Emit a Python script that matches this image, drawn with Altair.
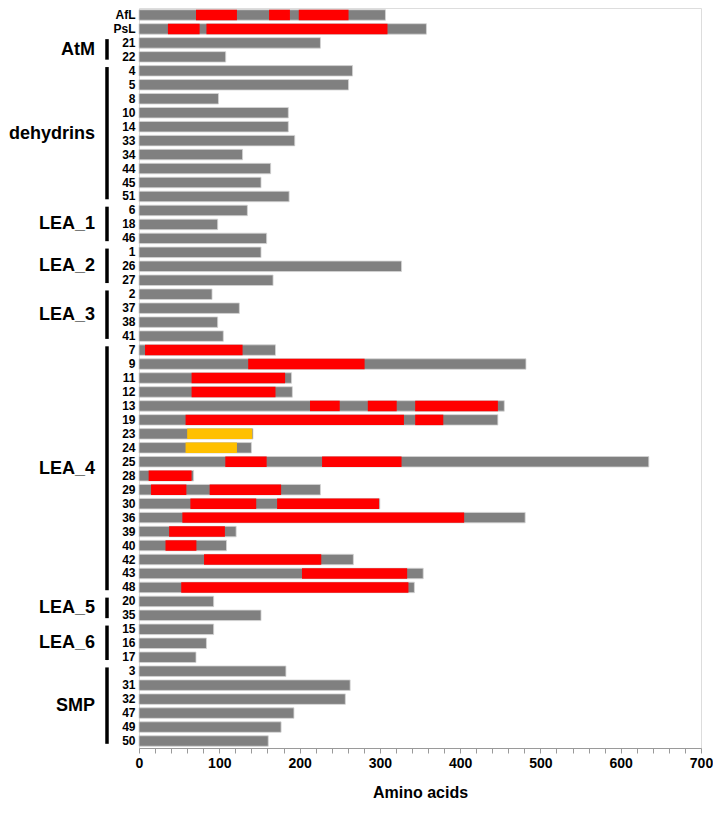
import altair as alt
import pandas as pd

# Row labels (top to bottom) and total protein lengths (amino acids)
rows = ["AfL", "PsL", "21", "22",
        "4", "5", "8", "10", "14", "33", "34", "44", "45", "51",
        "6", "18", "46",
        "1", "26", "27",
        "2", "37", "38", "41",
        "7", "9", "11", "12", "13", "19", "23", "24", "25", "28", "29", "30",
        "36", "39", "40", "42", "43", "48",
        "20", "35",
        "15", "16", "17",
        "3", "31", "32", "47", "49", "50"]
lengths = [307, 358, 226, 108,
           266, 261, 99, 186, 186, 194, 129, 164, 152, 187,
           135, 98, 159,
           152, 327, 167,
           91, 125, 98, 105,
           170, 482, 190, 191, 455, 447, 142, 140, 635, 68, 226, 300,
           481, 121, 109, 267, 354, 343,
           93, 152,
           93, 84, 71,
           183, 263, 257, 193, 177, 161]

# Highlighted segments (red = repeat region, yellow = other motif)
seg_rows = ["AfL", "AfL", "AfL", "PsL", "PsL",
            "7", "9", "11", "12", "13", "13", "13", "19", "19",
            "23", "24", "25", "25", "28", "29", "29", "30", "30",
            "36", "39", "40", "42", "43", "48"]
seg_starts = [71, 162, 199, 36, 84,
              7.5, 136, 65.5, 65.5, 213, 285, 344, 58, 344,
              60, 58, 107.5, 228, 12, 15, 88, 64, 172,
              54, 37.5, 33, 81, 203, 52.6]
seg_ends = [122, 188, 261, 75.5, 309.5,
            129, 281, 182, 170, 250, 321, 447, 330, 379,
            141, 122, 159, 327, 65.5, 59, 177, 146, 299,
            405, 107, 71.5, 227, 334, 335.6]
seg_kinds = ["red", "red", "red", "red", "red",
             "red", "red", "red", "red", "red", "red", "red", "red", "red",
             "yellow", "yellow", "red", "red", "red", "red", "red", "red", "red",
             "red", "red", "red", "red", "red", "red"]

# Groups
groups = ["AtM", "dehydrins", "LEA_1", "LEA_2", "LEA_3", "LEA_4", "LEA_5", "LEA_6", "SMP"]
group_first = ["21", "4", "6", "1", "2", "7", "20", "15", "3"]
group_last = ["22", "51", "46", "27", "41", "48", "35", "17", "50"]

# Axis tick positions
tick_values = list(range(0, 701, 20))

FONT = "Liberation Sans"
N = len(rows)
W = 562
H = 740

bars_df = pd.DataFrame({"label": rows, "length": lengths})
seg_df = pd.DataFrame({"label": seg_rows, "start": seg_starts, "end": seg_ends, "kind": seg_kinds})
gi_first = [rows.index(g) for g in group_first]
gi_last = [rows.index(g) for g in group_last]
grp_df = pd.DataFrame({
    "group": groups,
    "top": [f + 0.23 for f in gi_first],
    "bot": [l + 0.7 for l in gi_last],
    "mid": [(f + l + 1) / 2 for f, l in zip(gi_first, gi_last)],
})

yscale = alt.Scale(domain=rows, paddingInner=0.25, paddingOuter=0.125)
xscale = alt.Scale(domain=[0, 700], nice=False)

xaxis = alt.Axis(
    values=tick_values,
    labelExpr="(round(datum.value) % 100 == 0) ? format(datum.value, 'd') : ''",
    labelOverlap=False, labelFlush=False, labelBound=False,
    tickSize=5, tickColor="#9a9a9a", domainColor="#9a9a9a",
    labelFont=FONT, labelFontSize=14, labelFontWeight="bold", labelColor="black",
    labelPadding=3, grid=False,
    title="Amino acids", titleFont=FONT, titleFontSize=16, titleFontWeight="bold",
    titleColor="black", titlePadding=14,
)
yaxis = alt.Axis(
    title=None, ticks=False, domain=False, labelPadding=4,
    labelFont=FONT, labelFontSize=12, labelFontWeight="bold", labelColor="black",
    labelOverlap=False,
)

base = alt.Chart(bars_df).mark_bar(color="#808080", stroke="#d4d4d4", strokeWidth=0.8).encode(
    x=alt.X("length:Q", scale=xscale, axis=xaxis),
    y=alt.Y("label:N", sort=rows, scale=yscale, axis=yaxis),
)

segs = alt.Chart(seg_df).mark_bar().encode(
    x=alt.X("start:Q", scale=xscale, axis=xaxis),
    x2="end:Q",
    y=alt.Y("label:N", sort=rows, scale=yscale, axis=yaxis),
    color=alt.Color("kind:N", scale=alt.Scale(domain=["red", "yellow"], range=["#FF0000", "#FFC000"]), legend=None),
)

gscale = alt.Scale(domain=[0, N], reverse=True, nice=False, zero=False)
brackets = alt.Chart(grp_df).mark_rule(color="black", strokeWidth=3.5).encode(
    x=alt.value(-32),
    y=alt.Y("top:Q", scale=gscale, axis=None),
    y2="bot:Q",
)
glabels = alt.Chart(grp_df).mark_text(
    align="right", baseline="middle", font=FONT, fontSize=18, fontWeight="bold", color="black"
).encode(
    x=alt.value(-44),
    y=alt.Y("mid:Q", scale=gscale, axis=None),
    text="group:N",
)

bars_layer = alt.layer(base, segs)
group_layer = alt.layer(brackets, glabels)

chart = alt.layer(bars_layer, group_layer).resolve_scale(y="independent").properties(
    width=W, height=H, padding=0
).configure_view(stroke=None).configure(background="white")

chart.save("out.html", embed_options={"renderer": "svg", "actions": False})
